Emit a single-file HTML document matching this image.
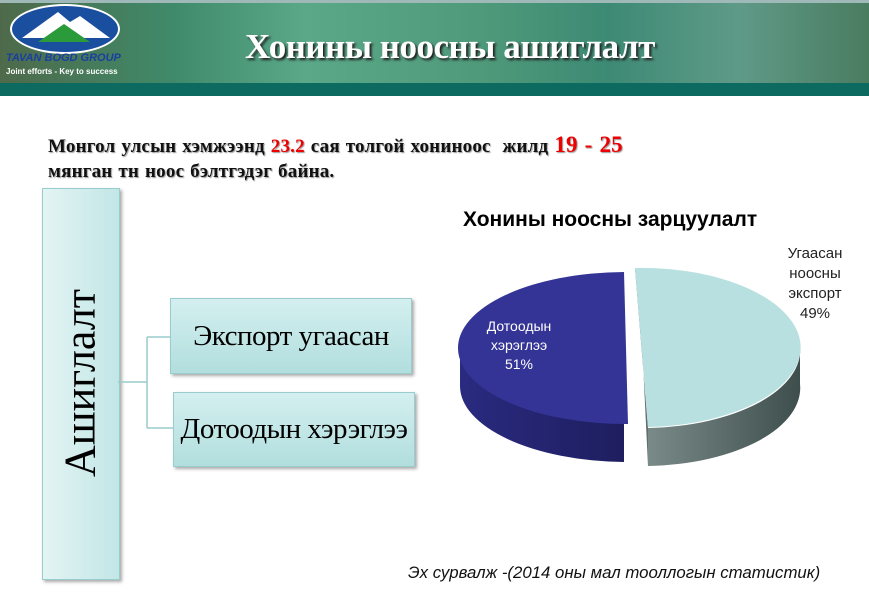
<!DOCTYPE html>
<html><head><meta charset="utf-8"><style>
body{margin:0;width:869px;height:602px;background:#fff;position:relative;overflow:hidden;font-family:"Liberation Sans",sans-serif}
.abs{position:absolute}
</style></head><body>
<div class="abs" style="left:0;top:0;width:869px;height:84px;background:linear-gradient(90deg,#4e6a4a 0%,#3f8a6a 20%,#5aa888 35%,#4f9a7a 55%,#3d8a74 70%,#5f9a88 85%,#4a7c60 100%)"></div>
<div class="abs" style="left:0;top:0;width:869px;height:3px;background:#9fb8b8"></div>
<div class="abs" style="left:0;top:83px;width:869px;height:13px;background:#0c6a60"></div>
<div class="abs" style="left:10px;top:4px;width:106px;height:46px;border-radius:50%;background:#1a4fa0;border:2px solid #fff"></div>
<svg class="abs" style="left:18px;top:8px" width="96" height="34"><polygon points="4,30 40,4 52,14 62,8 92,30" fill="#fff"/><polygon points="20,34 46,16 72,34" fill="#2a9a3a"/></svg>
<div class="abs" style="left:6px;top:52px;font:bold italic 11px 'Liberation Sans';color:#1a3fa0">TAVAN BOGD GROUP</div>
<div class="abs" style="left:6px;top:67px;font:bold 8px 'Liberation Sans';color:#fff">Joint efforts - Key to success</div>
<div class="abs" style="left:245px;top:27px;font:bold 35px 'Liberation Serif',serif;color:#fff;text-shadow:2px 2px 2px #222;letter-spacing:-0.5px">Хонины ноосны ашиглалт</div>

<div class="abs" style="left:48px;top:132px;font:bold 19px 'Liberation Serif',serif;color:#111;text-shadow:1px 1px 1px #999;line-height:25px;letter-spacing:0.2px;word-spacing:1px;white-space:nowrap">Монгол улсын хэмжээнд <span style="color:#e00">23.2</span> сая толгой хониноос&nbsp; жилд <span style="color:#e00;font-size:23px">19 - 25</span><br>мянган тн ноос бэлтгэдэг байна.</div>

<div class="abs" style="left:42px;top:188px;width:76px;height:390px;background:linear-gradient(90deg,#e4f4f4,#c2e6e6);border:1px solid #9cc;box-shadow:2px 2px 3px #aaa"></div>
<div class="abs" style="left:80px;top:383px;transform:translate(-50%,-50%) rotate(-90deg);font:44px 'Liberation Serif',serif;white-space:nowrap;color:#000">Ашиглалт</div>
<svg class="abs" style="left:0;top:0" width="869" height="602"><path d="M118 382H147M147 337V428M147 337H170M147 428H173" stroke="#9cc" fill="none" stroke-width="1.5"/></svg>
<div class="abs" style="left:170px;top:298px;width:240px;height:74px;background:linear-gradient(180deg,#d4efef,#b2dede);border:1px solid #9cc;box-shadow:2px 2px 3px #aaa;font:29px 'Liberation Serif',serif;text-align:center;line-height:74px;white-space:nowrap;letter-spacing:-0.5px">Экспорт угаасан</div>
<div class="abs" style="left:173px;top:392px;width:240px;height:73px;background:linear-gradient(180deg,#d4efef,#b2dede);border:1px solid #9cc;box-shadow:2px 2px 3px #aaa;font:29px 'Liberation Serif',serif;text-align:center;line-height:73px;white-space:nowrap;letter-spacing:-0.5px">Дотоодын хэрэглээ</div>

<div class="abs" style="left:463px;top:208px;font:bold 21px 'Liberation Sans',sans-serif;color:#000">Хонины ноосны зарцуулалт</div>
<svg class="abs" style="left:0;top:0" width="869" height="602">
<defs><linearGradient id="ls" x1="0" x2="1"><stop offset="0" stop-color="#2a2a80"/><stop offset="1" stop-color="#1e1e60"/></linearGradient>
<linearGradient id="rs" x1="0" x2="1"><stop offset="0" stop-color="#7a8a88"/><stop offset="1" stop-color="#3e4e4c"/></linearGradient></defs>
<path d="M460 348 V386 A168 76 0 0 0 624 462 V424 Z" fill="url(#ls)"/>
<path d="M624 272 A168 76 0 0 0 628 424 Z" fill="#343496"/>
<path d="M648 428 V466 A158 78 0 0 0 800 384 V346 A158 78 0 0 1 648 428Z" fill="url(#rs)"/>
<path d="M635 268 L648 428 V466 L640 300Z" fill="#606e6c"/>
<path d="M635 268 A158 79 0 0 1 648 427 Z" fill="#b8e0e0"/>
<text x="519" y="331" font-family="Liberation Sans" font-size="14" fill="#fff" text-anchor="middle">Дотоодын</text>
<text x="519" y="350" font-family="Liberation Sans" font-size="14" fill="#fff" text-anchor="middle">хэрэглээ</text>
<text x="519" y="369" font-family="Liberation Sans" font-size="14" fill="#fff" text-anchor="middle">51%</text>
<text x="815" y="258" font-family="Liberation Sans" font-size="15" fill="#222" text-anchor="middle">Угаасан</text>
<text x="815" y="278" font-family="Liberation Sans" font-size="15" fill="#222" text-anchor="middle">ноосны</text>
<text x="815" y="298" font-family="Liberation Sans" font-size="15" fill="#222" text-anchor="middle">экспорт</text>
<text x="815" y="318" font-family="Liberation Sans" font-size="15" fill="#222" text-anchor="middle">49%</text>
</svg>
<div class="abs" style="left:408px;top:563px;font:italic 16.8px 'Liberation Sans',sans-serif;color:#111;white-space:nowrap">Эх сурвалж -(2014 оны мал тооллогын статистик)</div>
</body></html>
